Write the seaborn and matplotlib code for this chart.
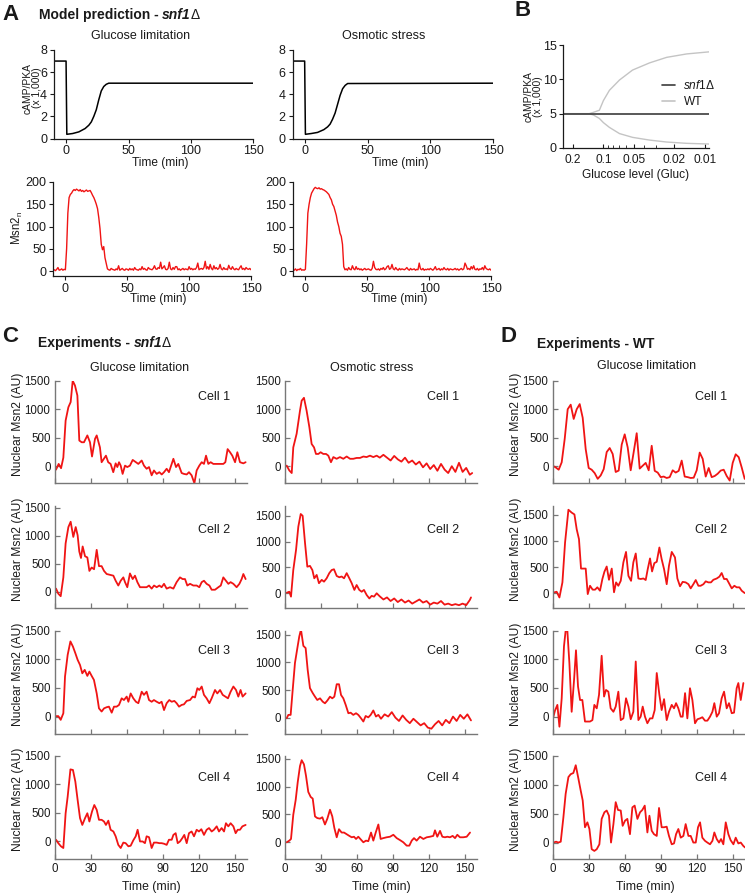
import numpy as np
import pandas as pd
import matplotlib
matplotlib.use("Agg")
import matplotlib.pyplot as plt
import seaborn as sns
from matplotlib.ticker import NullFormatter, LogLocator
from matplotlib.lines import Line2D

# ---------------- data ----------------
# Panel A: model prediction
camp_t = [-10, -0.3, 0.3, 5, 10, 15, 18, 20, 22, 24, 26, 28, 30, 32, 34, 150]
camp_glu = [7, 7, 0.38, 0.45, 0.6, 0.9, 1.2, 1.5, 2.0, 2.6, 3.5, 4.3, 4.7, 4.9, 5.0, 5.0]
camp_osm = [7, 7, 0.38, 0.45, 0.55, 0.8, 1.05, 1.3, 1.75, 2.3, 3.1, 3.9, 4.5, 4.8, 4.97, 5.0]

msn_t = list(range(-10, 151))
msn_glu = [2, 3, 1, 4, 8, 2, 3, 5, 2, 4,
           3, 50, 130, 165, 172, 175, 180, 183, 181, 184,
           182, 180, 183, 179, 181, 178, 180, 182, 179, 180,
           181, 176, 170, 165, 158, 150, 140, 120, 95, 60,
           48, 55, 30, 18, 5, 3, 2, 6, 4, 3,
           2, 5, 3, 12, 2, 4, 6, 3, 2, 5,
           4, 2, 6, 3, 5, 2, 8, 4, 3, 2,
           5, 3, 10, 4, 6, 3, 2, 8, 5, 4,
           3, 6, 12, 5, 4, 8, 6, 20, 5, 8,
           12, 4, 3, 6, 20, 5, 3, 8, 4, 10,
           10, 3, 5, 2, 4, 6, 3, 5, 4, 3,
           10, 4, 6, 3, 5, 4, 8, 18, 3, 5,
           6, 4, 8, 22, 5, 10, 4, 15, 6, 3,
           12, 5, 8, 4, 6, 15, 5, 3, 8, 4,
           5, 3, 13, 6, 4, 10, 5, 3, 6, 4,
           3, 8, 12, 4, 6, 3, 8, 5, 4, 6,
           3]
msn_osm = [3, 2, 5, 1, 4, 3, 6, 2, 3, 2,
           4, 60, 130, 150, 165, 175, 180, 185, 188, 186,
           185, 187, 184, 185, 183, 182, 180, 178, 175, 172,
           165, 160, 150, 145, 135, 125, 110, 100, 85, 78,
           60, 10, 3, 5, 2, 8, 4, 3, 12, 5,
           3, 10, 4, 6, 3, 5, 2, 4, 6, 3,
           4, 5, 3, 2, 6, 22, 8, 4, 3, 5,
           2, 6, 4, 8, 3, 5, 10, 12, 4, 6,
           15, 5, 3, 8, 4, 2, 6, 3, 5, 4,
           3, 5, 8, 4, 2, 6, 3, 4, 5, 2,
           4, 3, 18, 5, 3, 6, 2, 4, 3, 5,
           3, 6, 4, 2, 5, 10, 3, 4, 6, 2,
           5, 3, 8, 4, 3, 6, 2, 5, 4, 3,
           4, 6, 3, 5, 2, 4, 6, 3, 5, 18,
           12, 4, 6, 3, 10, 5, 12, 4, 3, 6,
           2, 5, 4, 8, 3, 12, 6, 4, 3, 5,
           2]

# Panel B: steady state vs glucose
gluc = [0.25, 0.138, 0.125, 0.1095, 0.1, 0.0872, 0.0694, 0.0516, 0.035, 0.0238, 0.0151, 0.0091]
snf1_level = [5, 5, 5, 5, 5, 5, 5, 5, 5, 5, 5, 5]
wt_high = [5, 5, 5.2, 5.5, 6.9, 8.4, 9.9, 11.35, 12.4, 13.2, 13.7, 14.0]
wt_low = [5, 5, 4.8, 4.3, 3.7, 3.0, 2.1, 1.55, 1.15, 0.87, 0.68, 0.58]

# Panel C: snf1 experiments, glucose limitation
cg1_t = [1.1, 3.3, 5.3, 7.2, 9.1, 11.4, 13.3, 15, 16.9, 18.9, 20.5, 22.5, 24.4, 27.2, 29.4, 31.1, 33.6, 35, 37.7, 39.1,
         42.7, 44.6, 46.6, 48.8, 50.8, 52.2, 53.6, 55, 56.6, 58.6, 60.5, 62.7, 65, 67.7, 69.7, 72.5, 74.4, 76.6, 78.6, 80.8,
         82.7, 85, 87.2, 89.2, 91.1, 93.3, 95.2, 97.5, 98.9, 101.1, 103, 105.8, 107.7, 110, 111.9, 114.1, 116.4, 118.3, 120.5, 122.5,
         124.4, 126.1, 128, 130, 132.2, 135, 137.7, 140.5, 142.2, 144.1, 146.1, 148, 150.3, 152.2, 154.4, 157.2, 159.1]
cg1_v = [-60, 40, -35, 150, 800, 1035, 1125, 1500, 1415, 1240, 450, 420, 420, 540, 420, 170, 480, 540, 330, 70,
         185, 70, 40, -105, 50, -15, 70, 10, -135, 10, -15, 10, 110, 70, 40, 100, 10, -45, -15, -160,
         -75, -135, -105, -145, -105, -45, -105, 40, 130, -15, 40, -120, -135, -145, -105, -160, -300, -75, 10, 70,
         40, 185, 40, 70, 40, 40, 40, 40, 70, 300, 245, 185, 70, 245, 70, 50, 70]
cg2_t = [1.1, 3.0, 5.0, 7.2, 9.1, 11.4, 13.3, 15.5, 17.5, 19.1, 20.5, 21.9, 23.3, 25.3, 27.2, 28.9, 30.8, 32.8, 35, 36.9,
         39.1, 41.1, 43.3, 46.1, 48.9, 50.8, 53, 55, 57.2, 58.6, 60.5, 62.7, 65, 66.9, 68.9, 71.1, 73.9, 76.6, 78.6, 80.8,
         82.8, 85, 87.2, 89.1, 91.1, 93.3, 96.1, 98.9, 101.6, 104.4, 106.6, 108.6, 110.5, 112.8, 115.5, 118.3, 120.5, 122.5, 124.4, 126.6,
         128.9, 130.8, 133.6, 136.4, 138.4, 140.5, 142.7, 144.7, 146.6, 148.9, 151.6, 153.9, 155.8, 157.2, 159.1]
cg2_v = [60, -30, -75, 260, 865, 1155, 1250, 980, 1155, 1010, 720, 605, 810, 635, 615, 375, 435, 405, 750, 460,
         460, 375, 320, 305, 290, 200, 115, 200, 260, 175, 85, 330, 230, 290, 175, 85, 85, 85, 115, 60,
         115, 85, 115, 85, 145, 60, 85, 60, 175, 260, 230, 230, 115, 145, 115, 115, 85, 175, 200, 145,
         115, 40, 40, 85, 115, 260, 200, 145, 175, 145, 85, 145, 230, 320, 230]
cg3_t = [1.1, 3.0, 5.0, 7.2, 8.6, 10.8, 13.1, 15.2, 17.2, 19.1, 21.1, 23.0, 25.0, 27.2, 28.9, 30.8, 32.7, 35.0, 36.9, 39.1,
         41.1, 43.3, 45.2, 47.5, 49.4, 51.6, 53.6, 55.8, 57.7, 60.0, 61.4, 63.3, 65.5, 67.7, 69.7, 72.5, 74.4, 76.6, 78.6, 80.8,
         82.7, 85.0, 87.2, 89.1, 91.1, 93.3, 95.5, 97.5, 99.7, 101.6, 103.6, 105.8, 107.7, 110.0, 112.8, 115.0, 116.9, 118.9, 120.5, 122.5,
         124.4, 126.6, 128.9, 130.8, 133.6, 135.5, 137.8, 140.0, 142.2, 144.4, 146.6, 148.9, 151.1, 153.0, 154.9, 156.6, 159.1]
cg3_v = [10, 10, -55, 60, 700, 1075, 1310, 1220, 1105, 990, 900, 755, 815, 710, 785, 710, 640, 405, 145, 90,
         145, 165, 175, 70, 175, 175, 205, 320, 290, 350, 260, 405, 320, 260, 235, 435, 380, 435, 290, 260,
         290, 260, 235, 260, 115, 235, 290, 260, 275, 235, 175, 205, 215, 275, 290, 350, 335, 495, 465, 525,
         380, 320, 235, 320, 465, 405, 465, 380, 350, 320, 435, 525, 465, 350, 465, 350, 405]
cg4_t = [1.1, 3.0, 5.2, 7.2, 9.1, 10.8, 13.1, 15.2, 17.2, 19.1, 21.1, 23.0, 25.3, 27.2, 28.9, 31.1, 33.0, 35.0, 36.9, 39.1,
         41.1, 42.7, 44.7, 46.6, 48.9, 50.8, 53.0, 55.0, 57.2, 59.1, 61.4, 63.3, 65.5, 67.5, 69.1, 71.1, 73.3, 75.2, 76.6, 78.6,
         80.8, 82.7, 85.0, 87.2, 89.1, 91.1, 93.3, 95.2, 97.5, 98.9, 100.8, 102.5, 104.4, 106.4, 108.0, 110.0, 111.9, 114.1, 116.1, 118.3,
         120.2, 122.2, 124.4, 126.6, 128.6, 130.8, 132.7, 135.0, 136.9, 139.1, 141.1, 142.7, 144.7, 146.6, 148.9, 150.8, 152.5, 154.4, 156.4, 159.1]
cg4_v = [30, -30, -85, -115, 495, 785, 1265, 1255, 1050, 730, 410, 290, 410, 495, 350, 525, 640, 555, 380, 380,
         350, 290, 365, 205, 175, 90, -60, -115, -20, -30, -85, -75, 20, 90, 205, 0, 0, -30, 90, 75,
         -115, -20, -20, -30, -30, -40, -60, 30, 30, 115, 145, -30, 0, 60, 115, -30, 145, 175, 90, 205,
         175, 215, 115, 205, 235, 175, 205, 265, 175, 235, 175, 320, 265, 320, 265, 145, 205, 205, 265, 290]

# Panel C: snf1 experiments, osmotic stress
co1_t = [1.4, 3.6, 5.6, 6.9, 9.7, 12.5, 13.9, 15.8, 18, 20.3, 22.2, 24.2, 25.8, 27.8, 29.7, 31.9, 34.2, 36.1, 38.3, 40.3,
         43, 45.8, 48.6, 51.4, 54.2, 56.9, 59.7, 62.5, 65.3, 68, 70.8, 73.6, 76.4, 79, 82, 85, 88, 91, 94, 97,
         100, 103, 106, 109, 112, 115, 118, 121, 124, 127, 130, 133, 136, 139, 142, 145, 148, 151, 154, 156]
co1_v = [10, -75, -120, 330, 570, 975, 1150, 1200, 975, 685, 390, 330, 215, 215, 245, 215, 215, 185, 70, 160,
         130, 160, 130, 170, 130, 130, 145, 145, 170, 160, 185, 160, 185, 150, 200, 150, 100, 180, 120, 80,
         150, 60, 100, 30, 80, -20, 50, -50, 20, -80, 40, -60, -120, 0, -100, 60, -100, -30, -150, -120]
co2_t = [1.4, 3.6, 5.0, 6.9, 9.2, 11.1, 13.1, 14.7, 16.7, 18.6, 20.8, 22.8, 24.4, 26.4, 28.3, 30.6, 32.5, 34.7, 36.9, 38.9,
         40.8, 43.1, 45.3, 47.2, 49.2, 51.4, 53.6, 55.6, 57.8, 59.7, 61.9, 63.9, 65.8, 68.1, 70.3, 72.2, 74.2, 76.4,
         79, 82, 85, 88, 91, 94, 97, 100, 103, 106, 109, 112, 115, 118, 121, 124, 127, 130, 133, 136, 139, 142, 145, 148, 151, 154, 155]
co2_v = [10, 30, -65, 450, 840, 1290, 1535, 1500, 970, 515, 530, 450, 290, 355, 195, 260, 225, 290, 390, 450,
         465, 335, 310, 325, 290, 390, 290, 195, 65, 160, 65, 30, 65, -35, -100, -50, -65, 0,
         -60, -120, -80, -150, -100, -170, -120, -180, -140, -200, -160, -120, -180, -150, -220, -180, -200, -150, -220, -200, -230, -210, -230, -200, -230, -130, -80]
co3_t = [1.4, 2.8, 4.7, 6.4, 8.3, 10.3, 11.9, 13.3, 15.3, 17.2, 18.9, 20.8, 23.1, 25.0, 26.9, 29.2, 31.4, 33.3, 35.3, 37.5,
         39.4, 41.1, 43.1, 45.0, 46.7, 48.6, 50.6, 52.8, 54.7, 56.9, 59.2, 61.1, 63.3, 65.3, 67.2, 69.4, 71.4, 73.6, 75.8, 77.8,
         80, 83, 86, 89, 92, 95, 98, 101, 104, 107, 110, 113, 116, 119, 122, 125, 128, 131, 134, 137, 140, 143, 146, 149, 152, 155]
co3_v = [-10, 50, 50, 500, 990, 1260, 1470, 1595, 1300, 1260, 865, 535, 445, 380, 320, 350, 290, 260, 310, 380,
         350, 380, 605, 605, 410, 350, 230, 80, 90, 50, 80, 50, -10, -70, 30, 5, 50, 130, 20, 50,
         -20, 60, 20, 100, 0, -60, 40, -40, -100, -20, -80, -140, -100, -180, -200, -120, -60, -140, -40, -100, 20, -60, 50, -20, 60, -50]
co4_t = [1.4, 3.6, 5.0, 6.9, 8.9, 10.6, 12.5, 13.9, 15.8, 17.5, 19.4, 21.4, 23.1, 25.0, 26.9, 29.2, 31.1, 33.3, 35.3, 37.5,
         39.4, 41.1, 43.1, 45.0, 47.2, 49.2, 51.4, 53.6, 55.6, 57.5, 59.2, 61.1, 65.3, 67.5, 69.4, 71.7, 73.6, 75.6, 77.8, 79.7,
         81.9, 84.7, 87.5, 90.3, 93.1, 95.8, 98.6, 101.4, 103.6, 105.6, 107.5, 109.7, 112.5, 115.3, 118.1, 120.8, 123.6, 125, 126.9, 129.2,
         131.1, 133.3, 135.3, 137.5, 139.7, 141.7, 143.6, 145.8, 148.6, 151.4, 154.2]
co4_v = [0, 30, 60, 495, 760, 1080, 1370, 1475, 1400, 1195, 905, 815, 785, 465, 435, 425, 450, 320, 425, 585,
         465, 260, 90, 235, 175, 175, 145, 115, 90, 100, 60, 100, 0, 30, 20, 175, 30, 175, 320, 60,
         75, 90, 100, 135, 75, 40, 0, -60, -60, 30, 75, 30, 100, 60, 90, 100, 115, 215, 100, 205,
         100, 90, 100, 90, 115, 75, 135, 90, 90, 100, 175]

# Panel D: WT experiments, glucose limitation
d1_t = [0, 2.5, 5, 7.5, 10, 12.5, 15, 17.5, 20, 22.5, 25, 27.5, 30, 32.5, 35, 37.5, 40, 42.5, 45, 47.5,
        50, 52.5, 55, 57.5, 60, 62.5, 65, 67.5, 70, 72.5, 75, 77.5, 80, 82.5, 85, 87.5, 90, 92.5, 95, 97.5,
        100, 102.5, 105, 107.5, 110, 112.5, 115, 117.5, 120, 122.5, 125, 127.5, 130, 132.5, 135, 137.5, 140, 142.5, 145, 147.5,
        150, 152.5, 155, 157.5, 160]
d1_v = [10, -20, -60, 70, 480, 1000, 1080, 830, 1000, 1090, 850, 300, -30, -60, -120, -220, -160, -50, 250, 320,
        215, -100, -75, 380, 560, 330, -70, 250, 580, -40, 10, 60, -70, 360, -80, -110, -190, -180, -205, -190,
        -70, -110, -80, 100, -180, -190, -205, -200, -70, 240, 130, -180, -30, -190, -170, -130, -75, -60, -170, -250,
        60, 210, 160, -20, -220]
d2_t = [0.6, 3.3, 5.6, 8.1, 10.3, 13.1, 15.8, 18.1, 20, 21.9, 23.6, 25.6, 27.5, 29.2, 31.1, 33.3, 35.3, 37.2, 39.4, 41.4,
        43.1, 45, 46.9, 49.2, 51.1, 52.8, 54.7, 56.7, 58.9, 61.1, 63.1, 65.3, 67.2, 69.2, 71.4, 73.3, 75.6, 77.5, 79.2, 81.1,
        82.8, 84.7, 86.7, 88.9, 90.8, 92.8, 95, 96.9, 99.2, 101.9, 103.9, 106.1, 108.3, 110.8, 113.1, 115, 117.2, 119.2, 121.4, 123.3,
        125.6, 127.5, 129.7, 131.9, 133.9, 136.7, 138.9, 140.8, 142.8, 145, 146.9, 149.2, 151.4, 153.3, 155.6, 157.5, 160]
d2_v = [10, 25, -85, 205, 970, 1600, 1545, 1510, 1225, 1035, 470, 470, 470, -20, 140, 65, 65, 110, 45, 270,
        410, 510, 255, 470, 15, 205, 140, 235, 590, 790, 330, 235, 590, 760, 280, 270, 280, 250, 460, 665,
        415, 575, 600, 875, 650, 460, 170, 525, 790, 685, 280, 130, 215, 205, 170, 90, 170, 250, 140, 140,
        170, 225, 205, 205, 255, 280, 315, 385, 270, 270, 190, 90, 140, 110, 110, 45, 0]
d3_t = [0.6, 1.9, 3.9, 5.6, 7.5, 9.4, 10.8, 12.2, 13.9, 15.8, 17.8, 19.4, 21.1, 22.8, 24.7, 26.9, 28.9, 31.1, 33.1, 34.7,
        36.7, 38.6, 40.8, 42.8, 44.4, 46.4, 48.3, 50.6, 52.5, 54.7, 56.7, 58.9, 61.1, 63.1, 65, 67.2, 69.2, 71.4, 73.3, 75,
        76.9, 78.9, 81.1, 83.1, 85, 86.7, 88.9, 90.8, 92.8, 95, 96.9, 99.2, 101.1, 102.8, 104.7, 106.7, 108.3, 110.3, 112.2, 114.4,
        116.4, 118.6, 120.6, 122.8, 124.7, 126.9, 128.9, 131.1, 133.1, 134.7, 136.7, 138.6, 140.8, 142.8, 145, 146.9, 149.2, 151.1, 153.3, 154.7,
        156.7, 158.9]
d3_v = [0, 105, 205, -175, 320, 1225, 1500, 1500, 935, 85, 640, 1155, 525, 290, 290, -85, -85, -85, -60, 205,
        145, 380, 1060, 350, 465, 435, 145, 85, 175, 435, -60, -30, 320, 175, -45, 85, 960, -60, 0, 175,
        0, -115, -30, -30, 115, 760, 380, 115, 305, -60, 85, 205, 145, 235, 145, 0, 0, 410, -30, 495,
        290, -115, -45, -30, -10, -70, -70, 0, 85, 235, 0, 60, 320, 435, 145, 235, 60, 70, 495, 585,
        290, 585]
d4_t = [0.6, 2.8, 4.7, 6.7, 8.9, 10.8, 13.1, 15, 17.2, 19.2, 21.4, 23.3, 25, 26.9, 28.9, 30.6, 32.5, 34.7, 36.7, 38.9,
        40.8, 43.1, 45, 46.9, 48.6, 50.6, 52.5, 54.4, 56.7, 58.3, 60.3, 62.2, 64.4, 66.4, 68.3, 70.6, 72.8, 74.7, 76.7, 78.9,
        80.6, 82.5, 84.4, 86.7, 88.6, 90.8, 92.8, 95, 96.9, 99.2, 101.1, 102.8, 104.7, 106.7, 108.9, 110.8, 113.1, 115, 117.2, 119.2,
        121.1, 122.8, 124.7, 126.9, 128.9, 131.1, 133.1, 134.7, 136.7, 138.6, 140.3, 142.2, 144.2, 146.4, 148.3, 150.6, 152.5, 154.7, 156.7, 158.9,
        160.3]
d4_v = [0, 15, 0, 15, 435, 845, 1135, 1185, 1205, 1340, 1110, 905, 730, 265, 350, 235, -115, -145, -115, -30,
        410, 525, 555, 465, 0, 320, 700, 565, 555, 290, 380, 410, 145, 610, 640, 410, 525, 565, 640, 175,
        465, 205, 145, 115, 600, 265, 265, 275, 115, -30, -15, 145, 235, 85, 115, 320, 115, 115, 0, 0,
        265, 350, 85, 30, 0, -30, 30, 175, 60, 0, 60, -30, 350, 145, 40, -30, 85, -15, 0, -60,
        -85]

cell_labels = ["Cell 1", "Cell 2", "Cell 3", "Cell 4"]
exp_ticks_x = [0, 30, 60, 90, 120, 150]
exp_ticks_y = [0, 500, 1000, 1500]
gluc_ticks = [0.2, 0.1, 0.05, 0.02, 0.01]
gluc_tick_labels = ["0.2", "0.1", "0.05", "0.02", "0.01"]

# ---------------- style ----------------
sns.set_theme(style="ticks")
plt.rcParams["font.family"] = ["Liberation Sans", "DejaVu Sans"]
plt.rcParams["mathtext.fontset"] = "custom"
plt.rcParams["mathtext.rm"] = "Liberation Sans"
plt.rcParams["mathtext.it"] = "Liberation Sans:italic"
plt.rcParams["mathtext.bf"] = "Liberation Sans:bold"
plt.rcParams["text.color"] = "#1a1a1a"
plt.rcParams["axes.labelcolor"] = "#1a1a1a"
plt.rcParams["xtick.color"] = "#1a1a1a"
plt.rcParams["ytick.color"] = "#1a1a1a"

W, H = 745, 894
fig = plt.figure(figsize=(W / 100, H / 100), dpi=100)
fig.patch.set_facecolor("white")
renderer = fig.canvas.get_renderer()


def add_ax(x0, y0, x1, y1):
    return fig.add_axes([x0 / W, 1 - y1 / H, (x1 - x0) / W, (y1 - y0) / H])


def ftext(x, y, s, **kw):
    return fig.text(x / W, 1 - y / H, s, **kw)


def rich(x, y, parts, size):
    cx = x
    for s, style, gap in parts:
        t = fig.text(cx / W, 1 - y / H, s, fontsize=size, va="center", ha="left", **style)
        bb = t.get_window_extent(renderer=renderer)
        cx += bb.width + gap


RED = "#f01414"


def line(ax, t, v, **kw):
    sns.lineplot(x=t, y=v, ax=ax, estimator=None, sort=False, legend=False, **kw)


def style_model(ax, xlim, ylim, yticks):
    ax.set_xlim(*xlim)
    ax.set_ylim(*ylim)
    ax.set_yticks(yticks)
    ax.set_xticks([0, 50, 100, 150])
    ax.tick_params(direction="out", length=3, width=0.8, labelsize=9, pad=2, color="#1a1a1a")
    for s in ["top", "right"]:
        ax.spines[s].set_visible(False)
    for s in ["left", "bottom"]:
        ax.spines[s].set_color("#1a1a1a")
        ax.spines[s].set_linewidth(0.9)
    ax.set_xlabel("")
    ax.set_ylabel("")


def style_exp(ax, ylim, show_x):
    ax.set_xlim(0, 160)
    ax.set_ylim(*ylim)
    ax.set_xticks(exp_ticks_x)
    ax.set_yticks(exp_ticks_y)
    ax.tick_params(direction="in", length=3.5, width=0.9, labelsize=8.3, pad=3, color="#777777")
    for s in ["top", "right"]:
        ax.spines[s].set_visible(False)
    for s in ["left", "bottom"]:
        ax.spines[s].set_color("#777777")
        ax.spines[s].set_linewidth(1.0)
    if not show_x:
        ax.set_xticklabels([])
    ax.set_xlabel("")
    ax.set_ylabel("")


# ---------------- Panel A ----------------
ftext(2, 14, "A", fontsize=16, fontweight="bold", va="center", ha="left")
rich(39, 15, [("Model prediction -", dict(fontweight="bold"), 3.5),
              ("snf1", dict(fontweight="bold", style="italic"), 0),
              ("Δ", dict(fontweight="normal"), 0)], 10)

a1 = add_ax(54, 50, 253, 138.5)
line(a1, camp_t, camp_glu, color="black", linewidth=1.1)
style_model(a1, (-10, 150), (0, 8), [0, 2, 4, 6, 8])
a2 = add_ax(292.5, 50, 493, 138.5)
line(a2, camp_t, camp_osm, color="black", linewidth=1.1)
style_model(a2, (-10, 150), (0, 8), [0, 2, 4, 6, 8])

a3 = add_ax(53, 182, 251, 276)
line(a3, msn_t, msn_glu, color=RED, linewidth=1.0)
style_model(a3, (-10, 150), (-11, 200), [0, 50, 100, 150, 200])
a4 = add_ax(293, 182, 491, 276)
line(a4, msn_t, msn_osm, color=RED, linewidth=1.0)
style_model(a4, (-10, 150), (-11, 200), [0, 50, 100, 150, 200])

ftext(141, 36, "Glucose limitation", fontsize=9, ha="center", va="center")
ftext(384, 36, "Osmotic stress", fontsize=9, ha="center", va="center")
ftext(32, 88, "cAMP/PKA\n(x 1,000)", fontsize=7.4, ha="center", va="center", rotation=90, linespacing=0.9)
ftext(17, 228, "Msn2$_\\mathregular{n}$", fontsize=8.3, ha="center", va="center", rotation=90)
for xc, yc in [(160, 163), (400, 163), (158, 299), (399, 299)]:
    ftext(xc, yc, "Time (min)", fontsize=8.6, ha="center", va="center")

# ---------------- Panel B ----------------
ftext(515, 11, "B", fontsize=16, fontweight="bold", va="center", ha="left")
b = add_ax(563, 45, 709, 148)
line(b, gluc, wt_high, color="#c4c4c4", linewidth=1.0)
line(b, gluc, wt_low, color="#c4c4c4", linewidth=1.0)
line(b, gluc, snf1_level, color="#3c3c3c", linewidth=1.2)
b.set_xscale("log")
b.set_xlim(0.25, 0.0091)
b.set_ylim(0, 15)
b.set_yticks([0, 5, 10, 15])
b.set_xticks(gluc_ticks)
b.set_xticklabels(gluc_tick_labels)
b.xaxis.set_minor_locator(LogLocator(base=10, subs=np.arange(2, 10) * 0.1, numticks=20))
b.xaxis.set_minor_formatter(NullFormatter())
b.tick_params(axis="y", direction="out", length=3, width=0.8, labelsize=9, pad=1.5)
b.tick_params(axis="x", which="major", direction="in", length=3, width=0.8, labelsize=8.6, pad=4)
b.tick_params(axis="x", which="minor", direction="in", length=2, width=0.6)
for s in ["top", "right"]:
    b.spines[s].set_visible(False)
for s in ["left", "bottom"]:
    b.spines[s].set_color("#1a1a1a")
    b.spines[s].set_linewidth(0.9)
b.set_xlabel("")
b.set_ylabel("")
handles = [Line2D([], [], color="#3c3c3c", linewidth=1.2), Line2D([], [], color="#c4c4c4", linewidth=1.2)]
fig.legend(handles, ["$\\it{snf1}$Δ", "WT"], loc="upper left", bbox_to_anchor=(656 / W, 1 - 73 / H),
           frameon=False, fontsize=8.6, handlelength=1.1, handletextpad=0.7, borderpad=0, labelspacing=0.35)
ftext(533, 97, "cAMP/PKA\n(x 1,000)", fontsize=7.4, ha="center", va="center", rotation=90, linespacing=0.9)
ftext(636, 175, "Glucose level (Gluc)", fontsize=8.6, ha="center", va="center")

# ---------------- Panels C & D ----------------
ftext(2, 336, "C", fontsize=16, fontweight="bold", va="center", ha="left")
rich(38, 343, [("Experiments -", dict(fontweight="bold"), 3.5),
               ("snf1", dict(fontweight="bold", style="italic"), 0),
               ("Δ", dict(fontweight="normal"), 0)], 10)
ftext(500, 337, "D", fontsize=16, fontweight="bold", va="center", ha="left")
ftext(537, 344, "Experiments - WT", fontsize=10, fontweight="bold", va="center", ha="left")
ftext(140, 368, "Glucose limitation", fontsize=9, ha="center", va="center")
ftext(372, 368, "Osmotic stress", fontsize=9, ha="center", va="center")
ftext(647, 366, "Glucose limitation", fontsize=9, ha="center", va="center")

rows = [(380.7, 483.3), (506, 608), (630.5, 734), (756, 859)]
cell_y = [397, 530, 651, 778]
cols = [(54.7, 246.7, 214), (285, 477, 443.5), (552.7, 744.7, 711)]
traces = [
    [(cg1_t, cg1_v), (co1_t, co1_v), (d1_t, d1_v)],
    [(cg2_t, cg2_v), (co2_t, co2_v), (d2_t, d2_v)],
    [(cg3_t, cg3_v), (co3_t, co3_v), (d3_t, d3_v)],
    [(cg4_t, cg4_v), (co4_t, co4_v), (d4_t, d4_v)],
]
ylims = [
    [(-300, 1500), (-300, 1500), (-298, 1500)],
    [(-285, 1530), (-285, 1690), (-287, 1672)],
    [(-301, 1500), (-296, 1578), (-302, 1500)],
    [(-308, 1500), (-300, 1550), (-285, 1500)],
]
for r, (y0, y1) in enumerate(rows):
    for c, (x0, x1, cx) in enumerate(cols):
        ax = add_ax(x0, y0, x1, y1)
        t, v = traces[r][c]
        line(ax, t, v, color=RED, linewidth=1.3)
        style_exp(ax, ylims[r][c], r == 3)
        ftext(cx, cell_y[r], cell_labels[r], fontsize=9, ha="center", va="center")
    yc = (y0 + y1) / 2 - 8
    ftext(18, yc, "Nuclear Msn2 (AU)", fontsize=8.7, ha="center", va="center", rotation=90)
    ftext(516, yc, "Nuclear Msn2 (AU)", fontsize=8.7, ha="center", va="center", rotation=90)

for xc in [151, 381, 645]:
    ftext(xc, 887, "Time (min)", fontsize=8.8, ha="center", va="center")

fig.savefig("out.png", dpi=100, facecolor="white")
